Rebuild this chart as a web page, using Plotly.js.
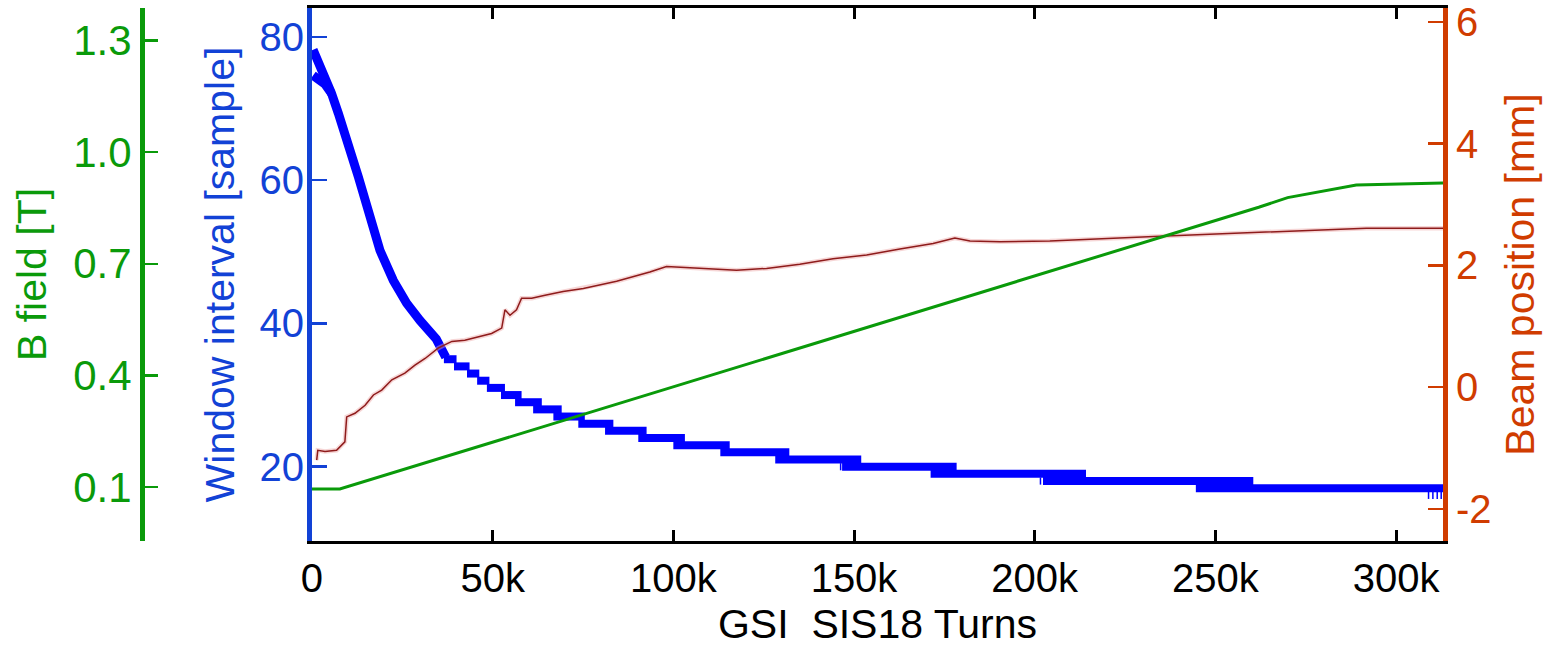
<!DOCTYPE html>
<html><head><meta charset="utf-8">
<script src="https://cdn.plot.ly/plotly-3.0.1.min.js"></script>
<style>html,body{margin:0;padding:0;background:#fff}#chart{width:1545px;height:647px}</style>
</head><body><div id="chart"></div>
<script>
// ---- tick definitions ----
const xTickVals = [0, 50000, 100000, 150000, 200000, 250000, 300000];
const xTickText = ['0', '50k', '100k', '150k', '200k', '250k', '300k'];
const windowTickVals = [20, 40, 60, 80];
const bTickVals = [0.1, 0.4, 0.7, 1.0, 1.3];
const bTickText = ['0.1', '0.4', '0.7', '1.0', '1.3'];
const posTickVals = [-2, 0, 2, 4, 6];
const posTickText = ['-2', '0', '2', '4', '6'];

// ---- Window interval [sample] : steep start (read points) ----
const winCurveTurns = [300, 1700, 3600, 5400, 7300, 9100, 11000, 12800, 18800, 20200, 22500, 26200, 27600, 29900, 34400, 37000];
const winCurveValue = [78.2, 76.5, 74.9, 72.1, 69.3, 66.5, 63.7, 60.5, 50.2, 48.3, 46.0, 42.8, 41.8, 40.4, 37.8, 35.3];
const winDitherTurns = [300, 3600, 5400];
const winDitherValue = [74.6, 73.4, 72.1];

// ---- Window interval : integer steps (level, first turn, last turn) ----
const stepLevel = [35, 34, 33, 32, 31, 30, 29, 28, 27, 26, 25, 24, 23, 22, 21, 20, 19, 18, 17];
const stepStart = [36500, 39300, 42900, 45700, 48400, 52300, 56200, 61200, 66800, 73700, 81100, 90300, 100000, 113000, 128200, 146700, 171200, 202300, 244600];
const stepEnd   = [40000, 43600, 46300, 49100, 53400, 58000, 63600, 69100, 75500, 83400, 92600, 103200, 115600, 132100, 152000, 178400, 214200, 260500, 313000];

// single-sample spikes
const spikeTurns = [146300, 201600, 309000, 310200, 311400, 312500];
const spikeLevel = [20, 18, 16, 16, 16, 16];

// ---- Beam position [mm] ----
const beamTurns = [1300, 1600, 3600, 6800, 9100, 9600, 11900, 14700, 17000, 19300, 22100, 25700, 28500, 31300, 34900, 38700, 42300, 46000, 49700, 52500, 53400, 54800, 56600, 58000, 60800, 64500, 69500, 75100, 84300, 93500, 98100, 104600, 112000, 117500, 125800, 135000, 144200, 153500, 162700, 171900, 177900, 182100, 190400, 204200, 234600, 264200, 291800, 313000];
const beamPos = [-1.20, -1.04, -1.06, -1.04, -0.90, -0.49, -0.43, -0.30, -0.13, -0.05, 0.12, 0.23, 0.36, 0.47, 0.64, 0.75, 0.77, 0.83, 0.88, 0.97, 1.27, 1.18, 1.27, 1.46, 1.46, 1.51, 1.57, 1.62, 1.74, 1.89, 1.98, 1.96, 1.94, 1.92, 1.95, 2.02, 2.11, 2.17, 2.27, 2.36, 2.45, 2.40, 2.39, 2.40, 2.48, 2.55, 2.61, 2.61];

// ---- B field [T] ----
const bTurns = [0, 7700, 262000, 270000, 289000, 313000];
const bField = [0.094, 0.094, 0.852, 0.878, 0.912, 0.917];

// ---- build segments ----
const segX = [], segY = [];
stepLevel.forEach((L, i) => { segX.push(stepStart[i], stepEnd[i], null); segY.push(L, L, null); });
const spX = [], spY = [];
spikeTurns.forEach((t, i) => { spX.push(t, t, null); spY.push(spikeLevel[i] + 0.5, spikeLevel[i] - 0.5, null); });

const BLUE = '#0000FF', BLUEAX = '#1242D6', GREEN = '#0A9A0A', ORANGE = '#D03C00', RED = '#8E1B1B';
const FONT = 'Liberation Sans, Arial, sans-serif';

const traces = [
  {x: winCurveTurns, y: winCurveValue, mode: 'lines', line: {color: BLUE, width: 9}, yaxis: 'y', hoverinfo: 'skip'},
  {x: winDitherTurns, y: winDitherValue, mode: 'lines', line: {color: BLUE, width: 9}, yaxis: 'y', hoverinfo: 'skip'},
  {x: segX, y: segY, mode: 'lines', line: {color: BLUE, width: 8}, connectgaps: false, yaxis: 'y', hoverinfo: 'skip'},
  {x: spX, y: spY, mode: 'lines', line: {color: BLUE, width: 1.5}, connectgaps: false, yaxis: 'y', hoverinfo: 'skip'},
  {x: beamTurns, y: beamPos, mode: 'lines', line: {color: 'rgba(235,165,165,0.45)', width: 4.5}, yaxis: 'y2', hoverinfo: 'skip'},
  {x: beamTurns, y: beamPos, mode: 'lines', line: {color: RED, width: 1.5}, yaxis: 'y2', hoverinfo: 'skip'},
  {x: bTurns, y: bField, mode: 'lines', line: {color: GREEN, width: 3}, yaxis: 'y3', hoverinfo: 'skip'}
];

const layout = {
  width: 1545, height: 647,
  margin: {l: 60, r: 102, t: 8, b: 106},
  paper_bgcolor: '#fff', plot_bgcolor: '#fff',
  showlegend: false,
  font: {family: FONT, size: 40, color: '#000'},
  xaxis: {
    domain: [0.18221, 1], range: [0, 313000],
    tickmode: 'array', tickvals: xTickVals, ticktext: xTickText,
    ticks: 'inside', ticklen: 11, tickwidth: 3, tickcolor: '#000',
    showline: true, linewidth: 3, linecolor: '#000', mirror: 'ticks',
    showgrid: false, zeroline: false,
    tickfont: {size: 40, color: '#000'},
    title: {text: 'GSI\u00a0 SIS18 Turns', font: {size: 41, color: '#000'}, standoff: 24}
  },
  yaxis: {
    range: [9.63, 84.02], side: 'left', anchor: 'x',
    tickmode: 'array', tickvals: windowTickVals,
    ticks: 'inside', ticklen: 15, tickwidth: 2.5, tickcolor: BLUEAX,
    showline: true, linewidth: 5, linecolor: BLUEAX,
    showgrid: false, zeroline: false, ticklabelstandoff: -5,
    tickfont: {size: 40, color: BLUEAX},
    title: {text: 'Window interval [sample]', font: {size: 41, color: BLUEAX}, standoff: 14}
  },
  yaxis2: {
    range: [-2.53, 6.23], side: 'right', anchor: 'x', overlaying: 'y',
    tickmode: 'array', tickvals: posTickVals, ticktext: posTickText,
    ticks: 'inside', ticklen: 15, tickwidth: 2.5, tickcolor: ORANGE,
    showline: true, linewidth: 5, linecolor: ORANGE, ticklabeloverflow: 'allow',
    showgrid: false, zeroline: false,
    tickfont: {size: 40, color: ORANGE},
    title: {text: 'Beam position [mm]', font: {size: 41, color: ORANGE}, standoff: 16}
  },
  yaxis3: {
    range: [-0.0458, 1.388], side: 'left', anchor: 'free', position: 0.05929, overlaying: 'y',
    tickmode: 'array', tickvals: bTickVals, ticktext: bTickText,
    ticks: 'inside', ticklen: 13, tickwidth: 2.5, tickcolor: GREEN,
    showline: true, linewidth: 5, linecolor: GREEN,
    showgrid: false, zeroline: false,
    tickfont: {size: 42, color: GREEN},
    title: {text: 'B field [T]', font: {size: 41, color: GREEN}, standoff: 12}
  }
};

Plotly.newPlot('chart', traces, layout, {displayModeBar: false, staticPlot: true});
</script>
</body></html>
